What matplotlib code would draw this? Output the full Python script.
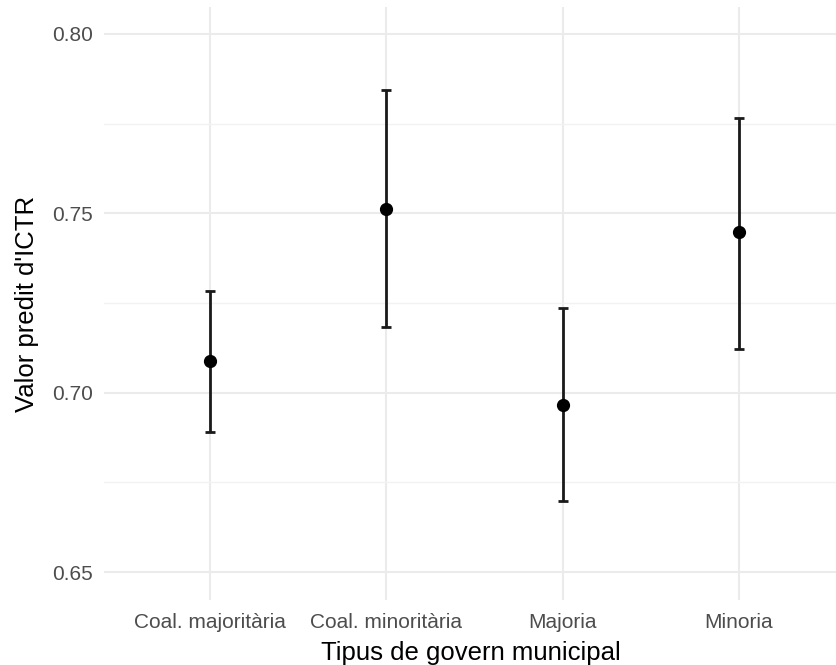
import numpy as np
import matplotlib.pyplot as plt

categories = ['Coal. majoritària', 'Coal. minoritària', 'Majoria', 'Minoria']
predicted = [0.7089, 0.7511, 0.6967, 0.7447]
lower = [0.6891, 0.7182, 0.6699, 0.7121]
upper = [0.7284, 0.7845, 0.7237, 0.7765]

plt.rcParams['font.family'] = ['Liberation Sans', 'DejaVu Sans']

fig = plt.figure(figsize=(8.37, 6.65), dpi=100)
ax = fig.add_axes([0.1243, 0.0977, 0.8757, 0.8917])

x = np.arange(1, len(categories) + 1)
pred = np.array(predicted)
yerr = [pred - np.array(lower), np.array(upper) - pred]
ax.errorbar(x, pred, yerr=yerr, fmt='o', color='black', ecolor='#1a1a1a',
            elinewidth=2.0, capsize=3.6, capthick=2.0, markersize=8.5, zorder=3)

ax.set_xlim(0.4, 4.556)
ax.set_ylim(0.6422, 0.8075)
ax.set_xticks(x)
ax.set_xticklabels(categories)
ax.set_yticks([0.65, 0.70, 0.75, 0.80])
ax.set_yticklabels(['0.65', '0.70', '0.75', '0.80'])
ax.set_yticks([0.675, 0.725, 0.775], minor=True)

ax.grid(True, which='major', color='#ebebeb', linewidth=1.5)
ax.grid(True, which='minor', axis='y', color='#f2f2f2', linewidth=1.0)
ax.set_axisbelow(True)
for s in ax.spines.values():
    s.set_visible(False)
ax.tick_params(which='both', length=0, colors='#4d4d4d', labelsize=15)
ax.tick_params(axis='x', pad=9)
ax.tick_params(axis='y', pad=8)

ax.set_xlabel('Tipus de govern municipal', fontsize=18.5, labelpad=7)
ax.set_ylabel("Valor predit d'ICTR", fontsize=18.5, labelpad=9.5)

fig.savefig('out.png', dpi=100)
